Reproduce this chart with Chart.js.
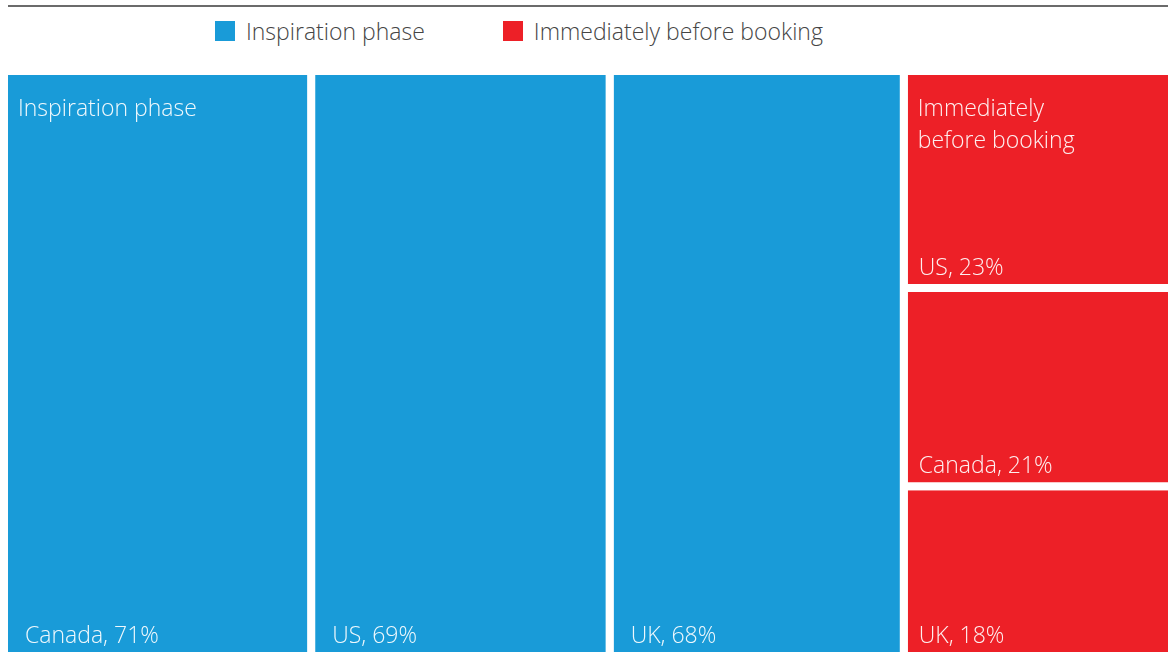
<!DOCTYPE html>
<html>
<head>
<meta charset="utf-8">
<script src="https://cdn.jsdelivr.net/npm/chart.js@4.4.1/dist/chart.umd.min.js"></script>
<style>
    html, body { margin: 0; padding: 0; background: #fff; overflow: hidden; }
    body { width: 1168px; height: 652px; position: relative; font-family: 'Open Sans', sans-serif; }
    .rule { position: absolute; left: 8px; right: 0; top: 5px; height: 2px; background: #6b6b6b; }
    .legend { position: absolute; left: 215px; top: 15px; display: flex; align-items: center;
              font-size: 23px; font-weight: 300; color: #454545; }
    .legend .item { display: flex; align-items: center; margin-right: 78px; }
    .legend .swatch { width: 20px; height: 20px; margin-right: 11px; }
    .chart-box { position: absolute; left: 0; top: 0; width: 1176px; height: 660px; }
</style>
</head>
<body>
<div class="rule"></div>
<div class="legend" id="legend"></div>
<div class="chart-box"><canvas id="treemap"></canvas></div>
<script>
// Groups and their cells
const groups = ['Inspiration phase', 'Immediately before booking'];
const groupColors = ['#199bd8', '#ed2027'];
const inspirationCountries = ['Canada', 'US', 'UK'];
const inspirationValues = [71, 69, 68];
const bookingCountries = ['US', 'Canada', 'UK'];
const bookingValues = [23, 21, 18];

const GAP = 8;
const FONT = '300 23px "Open Sans", sans-serif';

// Slice-and-dice layout: each inspiration cell is a full-height column,
// the booking cells share one column split vertically.
function buildCells() {
    const cells = [];
    let x = 0;
    inspirationValues.forEach((v, i) => {
        cells.push({ group: 0, first: i === 0, label: inspirationCountries[i] + ', ' + v + '%',
                     x0: x, x1: x + v, y0: 0, y1: 1 });
        x += v;
    });
    const colWidth = bookingValues.reduce((a, b) => a + b, 0);
    let y = 0;
    bookingValues.forEach((v, i) => {
        const h = v / colWidth;
        cells.push({ group: 1, first: i === 0, label: bookingCountries[i] + ', ' + v + '%',
                     x0: x, x1: x + colWidth, y0: y, y1: y + h });
        y += h;
    });
    return cells;
}

const cells = buildCells();
const totalX = cells.reduce((m, c) => Math.max(m, c.x1), 0);

function wrapText(ctx, text, maxWidth) {
    const words = text.split(' ');
    const lines = [];
    let line = '';
    words.forEach(w => {
        const test = line ? line + ' ' + w : w;
        if (line && ctx.measureText(test).width > maxWidth) {
            lines.push(line);
            line = w;
        } else {
            line = test;
        }
    });
    if (line) lines.push(line);
    return lines;
}

// Group titles at the top of the first cell, values at the bottom of each cell
const cellLabels = {
    id: 'cellLabels',
    afterDatasetsDraw(chart, args, opts) {
        const ctx = chart.ctx;
        const xs = chart.scales.x, ys = chart.scales.y;
        ctx.save();
        ctx.font = FONT;
        ctx.fillStyle = 'rgba(255,255,255,0.93)';
        ctx.textBaseline = 'alphabetic';
        ctx.textAlign = 'left';
        cells.forEach(c => {
            const left = xs.getPixelForValue(c.x0) + GAP / 2;
            const right = xs.getPixelForValue(c.x1) - GAP / 2;
            const top = ys.getPixelForValue(c.y0) + GAP / 2;
            const bottom = ys.getPixelForValue(c.y1) - GAP / 2;
            if (c.first) {
                const lines = wrapText(ctx, groups[c.group], (right - left) * 0.7);
                lines.forEach((l, k) => ctx.fillText(l, left + opts.titleInset, top + 41 + k * 32));
            }
            ctx.fillText(c.label, left + opts.valueInset[c.group], bottom - 9);
        });
        ctx.restore();
    }
};

function buildLegend() {
    document.getElementById('legend').innerHTML = groups.map((g, i) => `
        <div class="item">
            <span class="swatch" style="background:${groupColors[i]}"></span>
            <span>${g}</span>
        </div>
    `).join('');
}

function createTreemap() {
    const ctx = document.getElementById('treemap').getContext('2d');
    new Chart(ctx, {
        type: 'scatter',
        data: {
            datasets: cells.map(c => ({
                label: c.label,
                data: [
                    { x: c.x0, y: c.y0 }, { x: c.x1, y: c.y0 },
                    { x: c.x1, y: c.y1 }, { x: c.x0, y: c.y1 },
                    { x: c.x0, y: c.y0 }
                ],
                showLine: true,
                fill: 'shape',
                backgroundColor: groupColors[c.group],
                borderColor: '#ffffff',
                borderWidth: GAP,
                borderJoinStyle: 'miter',
                borderCapStyle: 'square',
                pointRadius: 0,
                pointHoverRadius: 0,
                tension: 0,
                clip: false
            }))
        },
        options: {
            responsive: true,
            maintainAspectRatio: false,
            animation: false,
            events: [],
            layout: { padding: { left: 4, right: 4, top: 71, bottom: 4 } },
            scales: {
                x: { type: 'linear', min: 0, max: totalX, display: false },
                y: { type: 'linear', min: 0, max: 1, reverse: true, display: false }
            },
            plugins: {
                legend: { display: false },
                tooltip: { enabled: false },
                cellLabels: { titleInset: 10, valueInset: [17, 11] }
            }
        },
        plugins: [cellLabels]
    });
}

window.onload = () => {
    buildLegend();
    createTreemap();
};
</script>
</body>
</html>
